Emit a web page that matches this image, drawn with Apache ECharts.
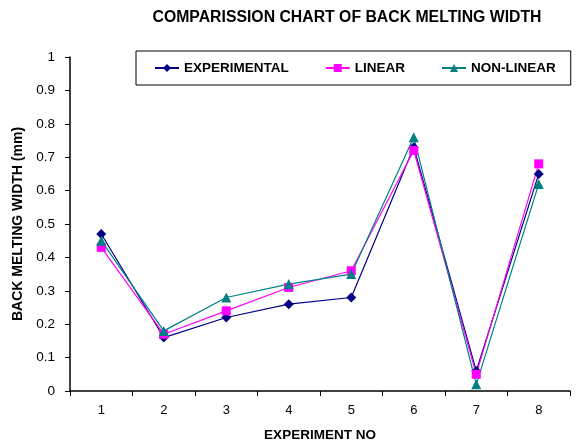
<!DOCTYPE html>
<html><head><meta charset="utf-8">
<script src="https://cdn.jsdelivr.net/npm/echarts@6/dist/echarts.min.js"></script>
<style>html,body{margin:0;padding:0;background:#fff}#c{width:578px;height:447px}</style>
</head><body><div id="c"></div>
<script>
const categories = ['1','2','3','4','5','6','7','8'];
const experimental = [0.47, 0.16, 0.22, 0.26, 0.28, 0.73, 0.06, 0.65];
const linear = [0.43, 0.17, 0.24, 0.31, 0.36, 0.72, 0.05, 0.68];
const nonLinear = [0.45, 0.18, 0.28, 0.32, 0.35, 0.76, 0.02, 0.62];

const chart = echarts.init(document.getElementById('c'));
const font = 'Liberation Sans, Arial, sans-serif';
function mk(name, data, color, symbol, size){
  return {name, type:'line', data, symbol, symbolSize:size,
    lineStyle:{color, width:1.2}, itemStyle:{color}, animation:false};
}
chart.setOption({
  animation:false,
  title:{text:'COMPARISSION CHART OF BACK MELTING WIDTH', left:342, top:5, textAlign:'center',
    textStyle:{fontFamily:font, fontSize:15.8, fontWeight:'bold', color:'#000'}},
  legend:{left:136, top:51, padding:[10,15,10,18], itemGap:36,
    borderColor:'#000', borderWidth:1, itemWidth:24, itemHeight:10,
    textStyle:{fontFamily:font, fontSize:13.5, fontWeight:'bold', color:'#000'}},
  grid:{left:70, right:8, top:57, bottom:54},
  xAxis:{type:'category', data:categories, boundaryGap:true,
    name:'EXPERIMENT NO', nameLocation:'middle', nameGap:37,
    nameTextStyle:{fontFamily:font, fontSize:13.5, fontWeight:'bold', color:'#000'},
    axisLine:{lineStyle:{color:'#000', width:1.5}},
    axisTick:{show:true, length:5, alignWithLabel:false, lineStyle:{color:'#000'}},
    axisLabel:{fontFamily:font, fontSize:13, color:'#000', margin:13}},
  yAxis:{type:'value', min:0, max:1, interval:0.1,
    name:'BACK MELTING WIDTH (mm)', nameLocation:'middle', nameGap:44, nameRotate:90,
    nameTextStyle:{fontFamily:font, fontSize:14, fontWeight:'bold', color:'#000'},
    axisLine:{show:true, lineStyle:{color:'#000', width:1.5}},
    axisTick:{show:true, length:5, lineStyle:{color:'#000'}},
    splitLine:{show:false},
    axisLabel:{fontFamily:font, fontSize:13.5, color:'#000', margin:15,
      formatter:v=>String(Math.round(v*10)/10)}},
  series:[
    mk('EXPERIMENTAL', experimental, '#000080', 'diamond', 10),
    mk('LINEAR', linear, '#FF00FF', 'rect', 9),
    mk('NON-LINEAR', nonLinear, '#008080', 'triangle', 10)
  ]
});
</script></body></html>
